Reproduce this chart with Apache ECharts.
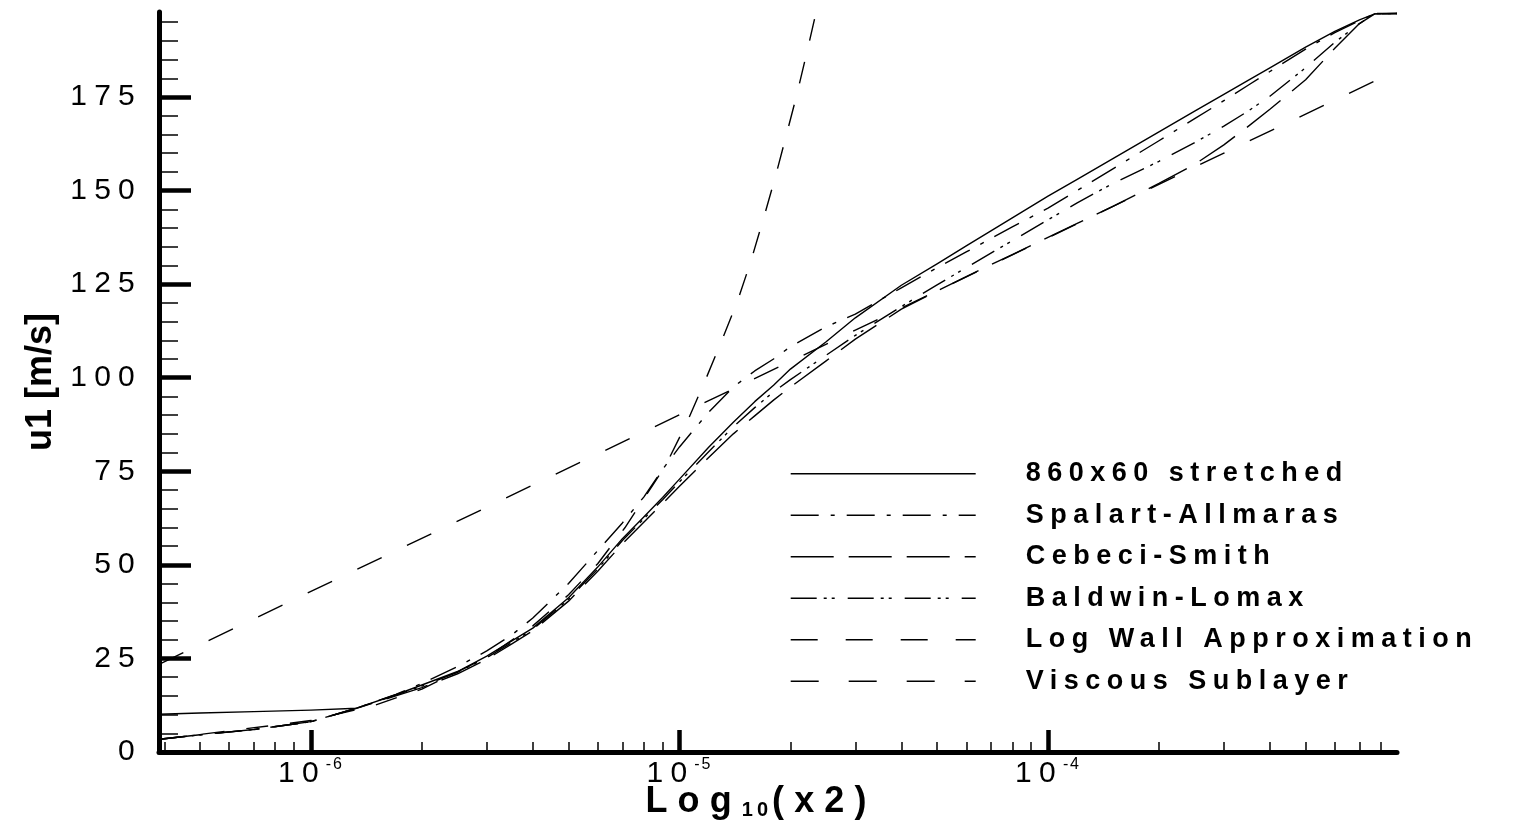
<!DOCTYPE html>
<html>
<head>
<meta charset="utf-8">
<script src="https://cdn.jsdelivr.net/npm/echarts@6/dist/echarts.min.js"></script>
<style>
html,body{margin:0;padding:0;background:#fff;}
#chart{width:1518px;height:837px;}
</style>
</head>
<body>
<div id="chart"></div>
<script>
// Letter spacing helper: a font family token "spNN" means NN% of font size.
(function () {
  var P = window.CanvasRenderingContext2D && CanvasRenderingContext2D.prototype;
  if (!P || !('letterSpacing' in P)) return;
  function apply(ctx) {
    var f = ctx.font || '';
    var m = /(\d+(?:\.\d+)?)px/.exec(f);
    var s = m ? parseFloat(m[1]) : 12;
    var k = /sp(\d+)/.exec(f);
    ctx.letterSpacing = k ? (s * parseInt(k[1], 10) / 100).toFixed(1) + 'px' : '0px';
  }
  var mt = P.measureText, ft = P.fillText, st = P.strokeText;
  P.measureText = function () { apply(this); return mt.apply(this, arguments); };
  P.fillText = function () { apply(this); return ft.apply(this, arguments); };
  P.strokeText = function () { apply(this); return st.apply(this, arguments); };
})();

// ---------------- data ----------------
const XMIN = 3.87e-7, XMAX = 8.85e-4, YMIN = 0, YMAX = 197.7;

const xMajorTicks = [1e-6, 1e-5, 1e-4];
const xMinorTicks = [4e-7, 5e-7, 6e-7, 7e-7, 8e-7, 9e-7,
  2e-6, 3e-6, 4e-6, 5e-6, 6e-6, 7e-6, 8e-6, 9e-6,
  2e-5, 3e-5, 4e-5, 5e-5, 6e-5, 7e-5, 8e-5, 9e-5,
  2e-4, 3e-4, 4e-4, 5e-4, 6e-4, 7e-4, 8e-4];
const yMajorTicks = [0, 25, 50, 75, 100, 125, 150, 175];
const yMinorTicks = [5, 10, 15, 20, 30, 35, 40, 45, 55, 60, 65, 70, 80, 85, 90, 95,
  105, 110, 115, 120, 130, 135, 140, 145, 155, 160, 165, 170, 180, 185, 190, 195];

const seriesNames = ['860x60 stretched', 'Spalart-Allmaras', 'Cebeci-Smith',
  'Baldwin-Lomax', 'Log Wall Approximation', 'Viscous Sublayer'];

// x2 positions shared by the four computed profiles
const xModel = [3.87e-7, 5e-7, 7e-7, 1e-6, 1.33e-6, 1.7e-6, 2e-6, 2.5e-6, 3e-6, 3.5e-6,
  4e-6, 5e-6, 6e-6, 7e-6, 8e-6, 9e-6, 1e-5, 1.2e-5, 1.4e-5, 1.6e-5,
  1.8e-5, 2e-5, 2.5e-5, 3e-5, 4e-5, 5e-5, 6e-5, 7e-5, 8e-5, 1e-4,
  1.2e-4, 1.5e-4, 2e-4, 2.5e-4, 3e-4, 3.5e-4, 4e-4, 5e-4, 6e-4, 7e-4,
  7.7e-4, 8.85e-4];

const u860 = [10.1, 10.4, 10.8, 11.2, 11.7, 15.3, 17.9, 21.5, 25.6, 29.6,
  33.1, 41.2, 49.4, 57.0, 62.8, 68.0, 72.9, 81.4, 88.1, 93.6,
  98.0, 102.3, 109.6, 116.0, 124.7, 130.4, 135.2, 139.2, 142.7, 148.5,
  153.0, 158.5, 165.7, 171.2, 175.7, 179.5, 182.8, 188.3, 192.5, 195.6,
  197.2, 197.3];

const uSA = [3.4, 4.6, 6.0, 8.1, 11.7, 15.4, 18.3, 22.8, 27.0, 31.2,
  35.8, 45.0, 53.8, 61.2, 68.1, 75.5, 81.5, 90.8, 97.5, 101.8,
  105.0, 108.3, 113.6, 117.0, 124.0, 129.4, 133.6, 137.2, 140.3, 145.3,
  150.0, 155.8, 163.3, 169.2, 174.0, 178.2, 181.8, 187.8, 192.2, 195.4,
  197.2, 197.3];

const uCS = [3.4, 4.6, 6.0, 8.1, 11.7, 15.0, 17.2, 20.9, 24.8, 28.8,
  32.4, 40.3, 48.3, 55.6, 61.4, 66.4, 71.0, 78.7, 85.0, 89.8,
  94.0, 97.5, 104.5, 110.3, 118.3, 123.2, 127.0, 130.2, 132.9, 137.5,
  141.2, 145.8, 151.9, 157.0, 162.2, 167.2, 171.7, 179.6, 188.0, 194.6,
  197.3, 197.3];

const uBL = [3.4, 4.6, 6.0, 8.1, 11.7, 15.2, 17.6, 21.3, 25.2, 29.2,
  32.8, 40.8, 48.9, 56.5, 62.3, 67.4, 72.2, 80.2, 86.9, 92.0,
  96.2, 99.5, 106.0, 111.3, 119.0, 124.8, 129.4, 133.3, 136.6, 142.2,
  146.7, 151.9, 157.8, 162.8, 167.2, 171.3, 175.2, 182.8, 189.6, 194.6,
  197.2, 197.3];

const xLogWall = [3.87e-7, 1e-6, 3e-6, 1e-5, 3e-5, 1e-4, 3e-4, 8.85e-4];
const uLogWall = [23.4, 42.9, 65.4, 90.1, 112.7, 137.4, 160.0, 182.1];

const xViscous = [3.87e-7, 1e-6, 1.5e-6, 2e-6, 3e-6, 4e-6, 5e-6, 6e-6, 7.11e-6, 8.49e-6,
  9.23e-6, 1.046e-5, 1.168e-5, 1.296e-5, 1.435e-5, 1.563e-5, 1.688e-5, 1.816e-5, 1.945e-5, 2.08e-5,
  2.214e-5, 2.346e-5];
const uViscous = [3.3, 8.4, 12.6, 16.8, 25.3, 33.7, 42.0, 50.3, 59.9, 71.5,
  77.1, 87.9, 98.7, 109.4, 120.3, 131.2, 142.3, 153.3, 164.4, 175.5,
  186.7, 197.5];

// ---------------- chart ----------------
const FONT = "'Liberation Sans'";
function zip(xs, ys) { return xs.map(function (x, i) { return [x, ys[i]]; }); }
function line(name, xs, ys, dash) {
  return {
    name: name, type: 'line', data: zip(xs, ys),
    symbol: 'none', showSymbol: false, smooth: false,
    silent: true, clip: true,
    itemStyle: { color: '#000', opacity: 0 },
    lineStyle: { color: '#000', width: 1.4, type: dash, join: 'round' }
  };
}

const chart = echarts.init(document.getElementById('chart'), null, { renderer: 'canvas' });
chart.setOption({
  animation: false,
  backgroundColor: '#fff',
  grid: { left: 159, right: 121, top: 12, bottom: 85, containLabel: false, outerBoundsMode: 'none' },
  legend: {
    orient: 'vertical', left: 790, top: 457, padding: 0,
    itemWidth: 185, itemHeight: 14, itemGap: 8,
    selectedMode: false,
    itemStyle: { opacity: 0, color: '#000' },
    lineStyle: { width: 1.4, color: '#000' },
    textStyle: { color: '#000', fontSize: 27, fontWeight: 'bold', fontFamily: FONT + ', sp24',
      lineHeight: 30, padding: [0, 0, 0, 45] },
    data: seriesNames.slice(0, 5).concat([{ name: seriesNames[5], lineStyle: { type: [28, 30] } }])
  },
  xAxis: [
    {
      type: 'log', logBase: 10, min: XMIN, max: XMAX, position: 'bottom',
      axisLine: { show: true, onZero: false, lineStyle: { color: '#000', width: 5 } },
      axisTick: { show: true, inside: true, length: 22, customValues: xMajorTicks,
        lineStyle: { color: '#000', width: 4.5 } },
      axisLabel: {
        show: true, customValues: xMajorTicks, margin: 4,
        formatter: function (v) { return '{b|10}{s|' + Math.round(Math.log10(v)) + '}'; },
        rich: {
          b: { fontSize: 30, lineHeight: 36, color: '#000', fontFamily: FONT + ', sp24' },
          s: { fontSize: 16, lineHeight: 13, verticalAlign: 'top', color: '#000', fontFamily: FONT + ', sp12' }
        }
      },
      splitLine: { show: false }, minorTick: { show: false }, minorSplitLine: { show: false },
      name: '{t|Log}{s|10}{t|(x2)}', nameLocation: 'middle', nameGap: 30, nameMoveOverlap: false,
      nameTextStyle: {
        padding: [0, 34, 0, 0],
        rich: {
          t: { fontSize: 36, fontWeight: 'bold', lineHeight: 40, color: '#000', fontFamily: FONT + ', sp28' },
          s: { fontSize: 20, fontWeight: 'bold', lineHeight: 10, verticalAlign: 'bottom', color: '#000', fontFamily: FONT + ', sp20' }
        }
      }
    },
    {
      type: 'log', logBase: 10, min: XMIN, max: XMAX, position: 'bottom',
      axisLine: { show: false, onZero: false },
      axisTick: { show: true, inside: true, length: 10, customValues: xMinorTicks,
        lineStyle: { color: '#000', width: 1.5 } },
      axisLabel: { show: false },
      splitLine: { show: false }
    }
  ],
  yAxis: [
    {
      type: 'value', min: YMIN, max: YMAX, position: 'left',
      axisLine: { show: true, onZero: false, lineStyle: { color: '#000', width: 5 } },
      axisTick: { show: true, inside: true, length: 32, customValues: yMajorTicks,
        lineStyle: { color: '#000', width: 4.5 } },
      axisLabel: { show: true, customValues: yMajorTicks, margin: 17, fontSize: 30,
        color: '#000', fontFamily: FONT + ', sp24' },
      splitLine: { show: false },
      name: 'u1 [m/s]', nameLocation: 'middle', nameGap: 100, nameRotate: 90, nameMoveOverlap: false,
      nameTextStyle: { fontSize: 36, fontWeight: 'bold', color: '#000', fontFamily: FONT }
    },
    {
      type: 'value', min: YMIN, max: YMAX, position: 'left',
      axisLine: { show: false, onZero: false },
      axisTick: { show: true, inside: true, length: 19, customValues: yMinorTicks,
        lineStyle: { color: '#000', width: 1.5 } },
      axisLabel: { show: false },
      splitLine: { show: false }
    }
  ],
  series: [
    line(seriesNames[0], xModel, u860, 'solid'),
    line(seriesNames[1], xModel, uSA, [28, 12, 4, 12]),
    line(seriesNames[2], xModel, uCS, [43, 15]),
    line(seriesNames[3], xModel, uBL, [26, 7, 3, 5, 3, 13]),
    line(seriesNames[4], xLogWall, uLogWall, [27, 28]),
    line(seriesNames[5], xViscous, uViscous, [22, 22])
  ]
});
</script>
</body>
</html>
